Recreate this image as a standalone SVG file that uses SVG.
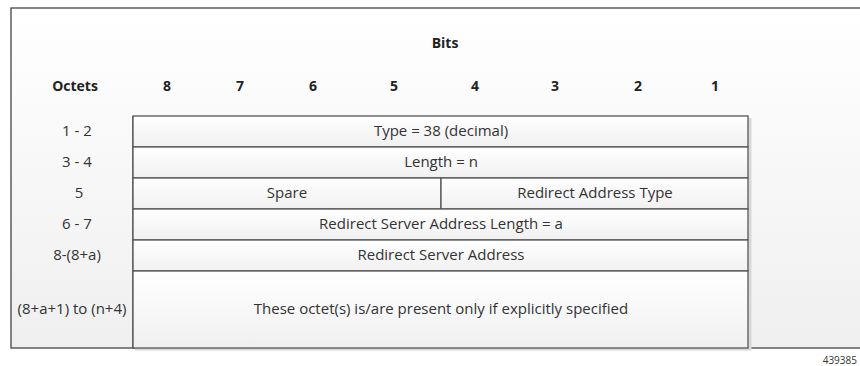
<svg xmlns="http://www.w3.org/2000/svg" width="860" height="366" viewBox="0 0 860 366">
<defs>
<linearGradient id="bg" x1="0" y1="0" x2="0" y2="1">
<stop offset="0" stop-color="#ffffff"/>
<stop offset="1" stop-color="#efefef"/>
</linearGradient>
<linearGradient id="cell" x1="0" y1="0" x2="0" y2="1">
<stop offset="0" stop-color="#ffffff"/>
<stop offset="1" stop-color="#f0f0f0"/>
</linearGradient>
<style>
.t{font-family:"Open Sans","Liberation Sans",Arial,sans-serif;font-size:15px;fill:#333;text-anchor:middle}
.b{font-weight:bold;fill:#222;font-size:14px}
.cell{fill:url(#cell);stroke:#555;stroke-width:1.3}
.sh{fill:none;stroke:#d8d8d8;stroke-width:3}
</style>
</defs>
<rect x="0" y="0" width="860" height="366" fill="#fff"/>
<rect id="frame" x="11" y="8" width="860" height="340" fill="url(#bg)" stroke="#444" stroke-width="1.3"/>
<line x1="133" y1="116" x2="133" y2="348" stroke="#444" stroke-width="1.3"/>
<g id="header">
<text class="t b" x="445" y="48">Bits</text>
<text class="t b" x="75" y="91">Octets</text>
<text class="t b" x="167" y="91">8</text>
<text class="t b" x="240" y="91">7</text>
<text class="t b" x="313" y="91">6</text>
<text class="t b" x="394" y="91">5</text>
<text class="t b" x="475" y="91">4</text>
<text class="t b" x="555" y="91">3</text>
<text class="t b" x="638" y="91">2</text>
<text class="t b" x="715" y="91">1</text>
</g>
<path class="sh" d="M750 118 V349 H135"/>
<g id="row1">
<rect class="cell" x="133" y="116" width="615" height="31"/>
<text class="t" x="77" y="136">1 - 2</text>
<text class="t" x="441" y="136">Type = 38 (decimal)</text>
</g>
<g id="row2">
<rect class="cell" x="133" y="147" width="615" height="31"/>
<text class="t" x="77" y="167">3 - 4</text>
<text class="t" x="441" y="167">Length = n</text>
</g>
<g id="row3">
<rect class="cell" x="133" y="178" width="308" height="31"/>
<rect class="cell" x="441" y="178" width="307" height="31"/>
<text class="t" x="79" y="198">5</text>
<text class="t" x="287" y="198">Spare</text>
<text class="t" x="595" y="198">Redirect Address Type</text>
</g>
<g id="row4">
<rect class="cell" x="133" y="209" width="615" height="31"/>
<text class="t" x="77" y="229">6 - 7</text>
<text class="t" x="441" y="229">Redirect Server Address Length = a</text>
</g>
<g id="row5">
<rect class="cell" x="133" y="240" width="615" height="31"/>
<text class="t" x="77" y="260">8-(8+a)</text>
<text class="t" x="441" y="260">Redirect Server Address</text>
</g>
<g id="row6">
<rect class="cell" x="133" y="271" width="615" height="77"/>
<text class="t" x="72" y="314">(8+a+1) to (n+4)</text>
<text class="t" x="441" y="314">These octet(s) is/are present only if explicitly specified</text>
</g>
<text x="857" y="364" style="font-family:'Open Sans','Liberation Sans',Arial,sans-serif;font-size:10px;fill:#333;text-anchor:end">439385</text>
</svg>
